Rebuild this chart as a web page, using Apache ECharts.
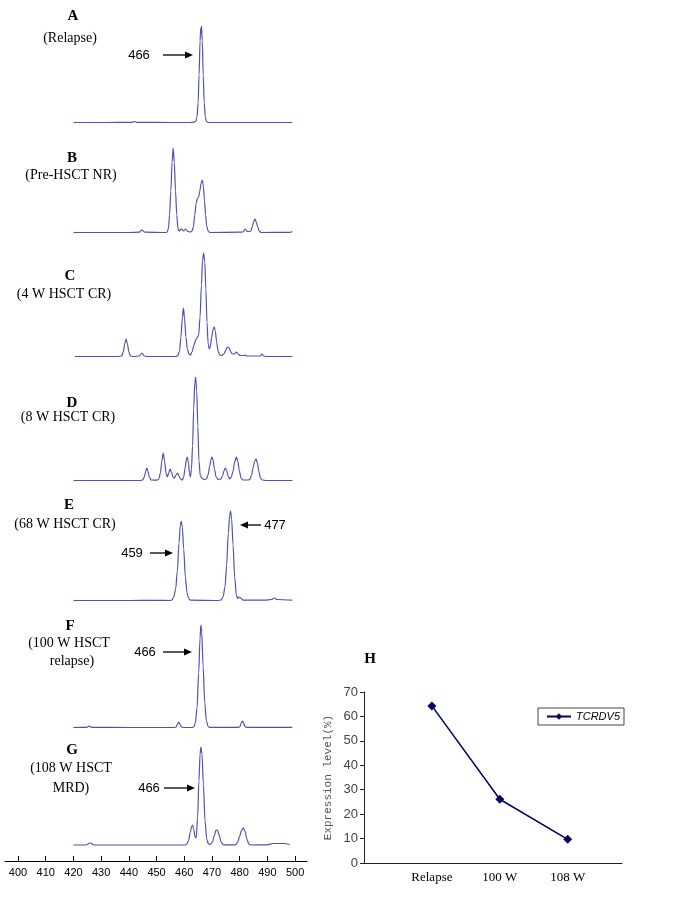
<!DOCTYPE html>
<html><head><meta charset="utf-8">
<script src="https://cdn.jsdelivr.net/npm/echarts@6/dist/echarts.min.js"></script>
<style>html,body{margin:0;padding:0;background:#fff}#c{width:674px;height:907px}</style>
</head><body><div id="c"></div>
<script>
// ---- Data: fragment size (bp) vs. relative fluorescence ----
const traceA = [[420,0.5],[432,0.5],[441,0.6],[442,1.5],[443,0.6],[455,0.5],[462,0.5],[463.6,0.8],[464.2,1.5],[464.6,6],[465.0,20],[465.35,48],[465.7,82],[465.95,95],[466.1,90],[466.25,97],[466.5,82],[466.85,48],[467.2,20],[467.6,6],[468.0,1.5],[468.8,0.5],[485,0.5],[499,0.5]];
const traceB = [[420,0.5],[440,0.5],[443.8,0.8],[444.7,3],[445.8,0.8],[453.3,0.5],[453.9,1],[454.3,5],[454.7,18],[455.15,42],[455.6,71],[456,85],[456.4,71],[456.85,42],[457.3,18],[457.7,5],[458.1,2],[459,4],[459.7,2],[460.5,4],[461.3,1.5],[462.2,1],[462.8,2],[463.3,6],[463.8,18],[464.3,30],[464.8,35],[465.2,36],[465.6,42],[466.1,50],[466.5,53],[466.9,47],[467.3,33],[467.7,18],[468.1,7],[468.6,2],[469.2,0.5],[480,0.8],[481.2,1],[482,4],[482.8,1.5],[483.5,1.5],[484,2],[484.5,6],[485,11],[485.5,14],[486,11],[486.5,6],[487,2],[487.8,0.5],[498,0.6],[499,1.5]];
const traceC = [[420.5,0.5],[436,0.5],[437.4,1],[438,5],[438.5,13],[439,18],[439.5,13],[440,5],[440.6,1],[441.5,0.5],[443.8,1],[444.7,4],[445.6,1],[446.5,0.5],[457,0.5],[457.7,1.5],[458.3,6],[458.8,20],[459.3,39],[459.7,49],[460.1,39],[460.6,20],[461.1,8],[461.7,3],[462.2,2],[462.8,5],[463.5,12],[464.3,18],[464.8,20],[465.2,22],[465.7,40],[466.2,72],[466.6,97],[467,104],[467.4,95],[467.8,68],[468.2,35],[468.6,14],[469,8],[469.4,10],[469.9,20],[470.4,28],[470.8,30],[471.2,26],[471.7,15],[472.2,6],[472.8,2],[473.5,1.5],[474.3,3],[475,7],[475.6,10],[476.2,9],[476.8,5],[477.4,3],[478.1,3],[478.8,5],[479.4,3],[480.2,1.5],[481.5,1.5],[482,2],[482.6,1],[487.4,1],[488,3],[488.6,1],[489.5,0.5],[499,0.5]];
const traceD = [[420,0.5],[444,0.5],[445,1],[445.6,4],[446.1,10],[446.5,13],[446.9,10],[447.4,4],[448,1],[450.2,0.8],[450.8,2],[451.4,8],[451.9,20],[452.4,28],[452.9,20],[453.4,8],[453.9,4],[454.4,8],[454.9,12],[455.4,9],[455.9,4],[456.4,3],[457.0,6],[457.6,8],[458.1,5],[458.7,2],[459.3,1],[459.8,4],[460.3,13],[460.8,22],[461.1,24],[461.5,18],[461.9,8],[462.2,4],[462.6,12],[463,35],[463.4,72],[463.8,98],[464.1,104],[464.5,90],[464.9,55],[465.3,20],[465.8,5],[466.4,3],[467,1.5],[468,2],[468.6,6],[469.2,15],[469.7,22],[470,24],[470.4,21],[470.9,12],[471.5,4],[472.3,1.5],[473.2,2],[473.8,5],[474.3,10],[474.8,13],[475.3,11],[475.8,5],[476.4,2],[477,4],[477.6,10],[478.2,19],[478.8,24],[479.3,20],[479.9,10],[480.5,3],[481.2,1],[483,1],[483.6,1.5],[484.3,6],[484.9,14],[485.4,20],[485.9,22],[486.4,18],[486.9,10],[487.5,3],[488.2,1],[489.5,0.5],[499,0.5]];
const traceE = [[420,0.5],[440,0.5],[450,0.7],[455,0.5],[455.5,1],[456.2,4],[456.9,12],[457.5,30],[458.1,58],[458.6,76],[458.9,80],[459.3,74],[459.8,52],[460.4,24],[461,8],[461.6,2.5],[462.2,0.8],[472,0.5],[473.3,1],[474,4],[474.7,14],[475.3,36],[475.9,68],[476.4,86],[476.7,90],[477.1,82],[477.6,56],[478.2,24],[478.8,6],[479.3,2.5],[479.8,4],[480.4,3],[481.2,0.8],[489,0.8],[491.5,1.5],[492.5,3],[493.5,1.5],[499,0.8]];
const traceF = [[420,0.5],[424.8,0.6],[425.7,1.8],[426.6,0.6],[440,0.5],[456.3,0.5],[457,1],[457.6,4],[458,6],[458.4,4],[459,1],[459.8,0.5],[462.8,0.5],[463.4,1],[464,5],[464.6,20],[465.2,55],[465.7,90],[466,103],[466.3,96],[466.8,62],[467.4,25],[468,7],[468.6,1.5],[469.2,0.6],[479.4,0.6],[480,1],[480.6,5],[481,7],[481.4,5],[482,1],[482.8,0.6],[499,0.6]];
const traceG = [[420,1],[424.5,1],[426,3],[427.5,1],[440,1],[455,1],[460.2,1],[460.8,1.5],[461.5,5],[462.2,14],[462.7,20],[463,21],[463.4,17],[463.9,9],[464.3,8],[464.8,28],[465.3,65],[465.7,92],[466,99],[466.4,92],[466.9,62],[467.5,25],[468.1,7],[468.7,2],[469.4,1.5],[470.2,4],[470.9,11],[471.5,16],[472,16],[472.6,11],[473.3,4],[474.1,1.2],[478.5,1.2],[479.3,4],[480,10],[480.7,16],[481.3,18],[481.9,15],[482.6,7],[483.3,2],[484,1],[490,1.2],[492,2.5],[496,2.5],[498,1.5]];
const sizeTicks = [400,410,420,430,440,450,460,470,480,490,500];
const hCategories = ['Relapse','100 W','108 W'];
const hValues = [64.3, 26.1, 9.7];
const hLegend = 'TCRDV5';

// ---- Layout ----
const traces = [traceA,traceB,traceC,traceD,traceE,traceF,traceG];
const baselines = [123,233,357,481,601,728,846];
const grids = [], xAxes = [], yAxes = [], series = [];
baselines.forEach((b,i)=>{
  grids.push({left:5, right:367, top:b-110, height:110});
  xAxes.push({type:'value', gridIndex:i, min:395.3, max:504.3, show:false});
  yAxes.push({type:'value', gridIndex:i, min:0, max:110, show:false});
  series.push({type:'line', xAxisIndex:i, yAxisIndex:i, data:traces[i], showSymbol:false, symbol:'none',
    smooth:0.3, smoothMonotone:'x', lineStyle:{color:'#5050b8', width:1.2}, silent:true});
});
grids.push({left:5, right:367, top:853, height:8});
xAxes.push({type:'value', gridIndex:7, min:395.3, max:504.3,
  axisLine:{show:true, onZero:false, lineStyle:{color:'#000', width:1}},
  axisTick:{show:true, inside:true, length:5, customValues:sizeTicks, lineStyle:{color:'#000'}},
  axisLabel:{show:true, customValues:sizeTicks, margin:6, fontSize:11, color:'#000', fontFamily:'Liberation Sans'},
  splitLine:{show:false}});
yAxes.push({type:'value', gridIndex:7, show:false, min:0, max:1});

grids.push({left:364, right:52, top:692, bottom:44});
xAxes.push({type:'value', gridIndex:8, min:0, max:3.8,
  axisLine:{show:true, onZero:false, lineStyle:{color:'#222'}}, axisTick:{show:false}, splitLine:{show:false},
  axisLabel:{customValues:[1,2,3], formatter:v=>hCategories[Math.round(v)-1]||'', fontFamily:'Liberation Serif', fontSize:13, color:'#000', margin:8}});
yAxes.push({type:'value', gridIndex:8, min:0, max:70, interval:10,
  axisLine:{show:true, lineStyle:{color:'#222'}}, axisTick:{show:true, length:4, lineStyle:{color:'#222'}},
  splitLine:{show:false}, axisLabel:{fontSize:13, color:'#444', margin:6, fontFamily:'Liberation Sans'},
  name:'Expression level(%)', nameLocation:'middle', nameGap:30,
  nameTextStyle:{fontFamily:'Liberation Mono', fontSize:11, color:'#555'}});
series.push({type:'line', name:hLegend, xAxisIndex:8, yAxisIndex:8, data:hValues.map((v,i)=>[i+1,v]),
  symbol:'diamond', symbolSize:9, itemStyle:{color:'#000066'}, lineStyle:{color:'#000066', width:1.5}});

// ---- Annotations ----
const serif = '"Liberation Serif", "Times New Roman", serif';
const sans = '"Liberation Sans", Arial, sans-serif';
const texts = [
  ['A',73,16,'bold 15px '+serif],['(Relapse)',70,38,'14px '+serif],
  ['B',72,158,'bold 15px '+serif],['(Pre-HSCT NR)',71,175,'14px '+serif],
  ['C',70,276,'bold 15px '+serif],['(4 W HSCT CR)',64,294,'14px '+serif],
  ['D',72,403,'bold 15px '+serif],['(8 W HSCT CR)',68,417,'14px '+serif],
  ['E',69,505,'bold 15px '+serif],['(68 W HSCT CR)',65,524,'14px '+serif],
  ['F',70,626,'bold 15px '+serif],['(100 W HSCT',69,643,'14px '+serif],['relapse)',72,661,'14px '+serif],
  ['G',72,750,'bold 15px '+serif],['(108 W HSCT',71,768,'14px '+serif],['MRD)',71,788,'14px '+serif],
  ['466',139,55,'13px '+sans],['459',132,553,'13px '+sans],['477',275,525,'13px '+sans],
  ['466',145,652,'13px '+sans],['466',149,788,'13px '+sans],
  ['H',370,659,'bold 15px '+serif]
];
const graphic = texts.map(t=>({type:'text', x:t[1], y:t[2], silent:true,
  style:{text:t[0], font:t[3], fill:'#000', align:'center', verticalAlign:'middle'}}));
function arrow(x1,x2,y){
  const d = x2>x1?1:-1;
  graphic.push({type:'line', silent:true, shape:{x1:x1, y1:y, x2:x2-d*6, y2:y}, style:{stroke:'#000', lineWidth:1.3}});
  graphic.push({type:'polygon', silent:true, shape:{points:[[x2,y],[x2-d*8,y-3.5],[x2-d*8,y+3.5]]}, style:{fill:'#000'}});
}
arrow(163,193,55); arrow(150,173,553); arrow(261,240,525); arrow(163,192,652); arrow(164,195,788);

const chart = echarts.init(document.getElementById('c'), null, {renderer:'canvas'});
chart.setOption({
  animation:false,
  backgroundColor:'#fff',
  grid:grids, xAxis:xAxes, yAxis:yAxes, series:series,
  legend:{data:[hLegend], left:538, top:708, orient:'horizontal', borderColor:'#444', borderWidth:1,
    padding:[3,4,3,8], itemWidth:24, itemHeight:8, itemGap:0,
    textStyle:{fontStyle:'italic', fontSize:11, fontFamily:sans, color:'#000'}},
  graphic:graphic
});
</script></body></html>
